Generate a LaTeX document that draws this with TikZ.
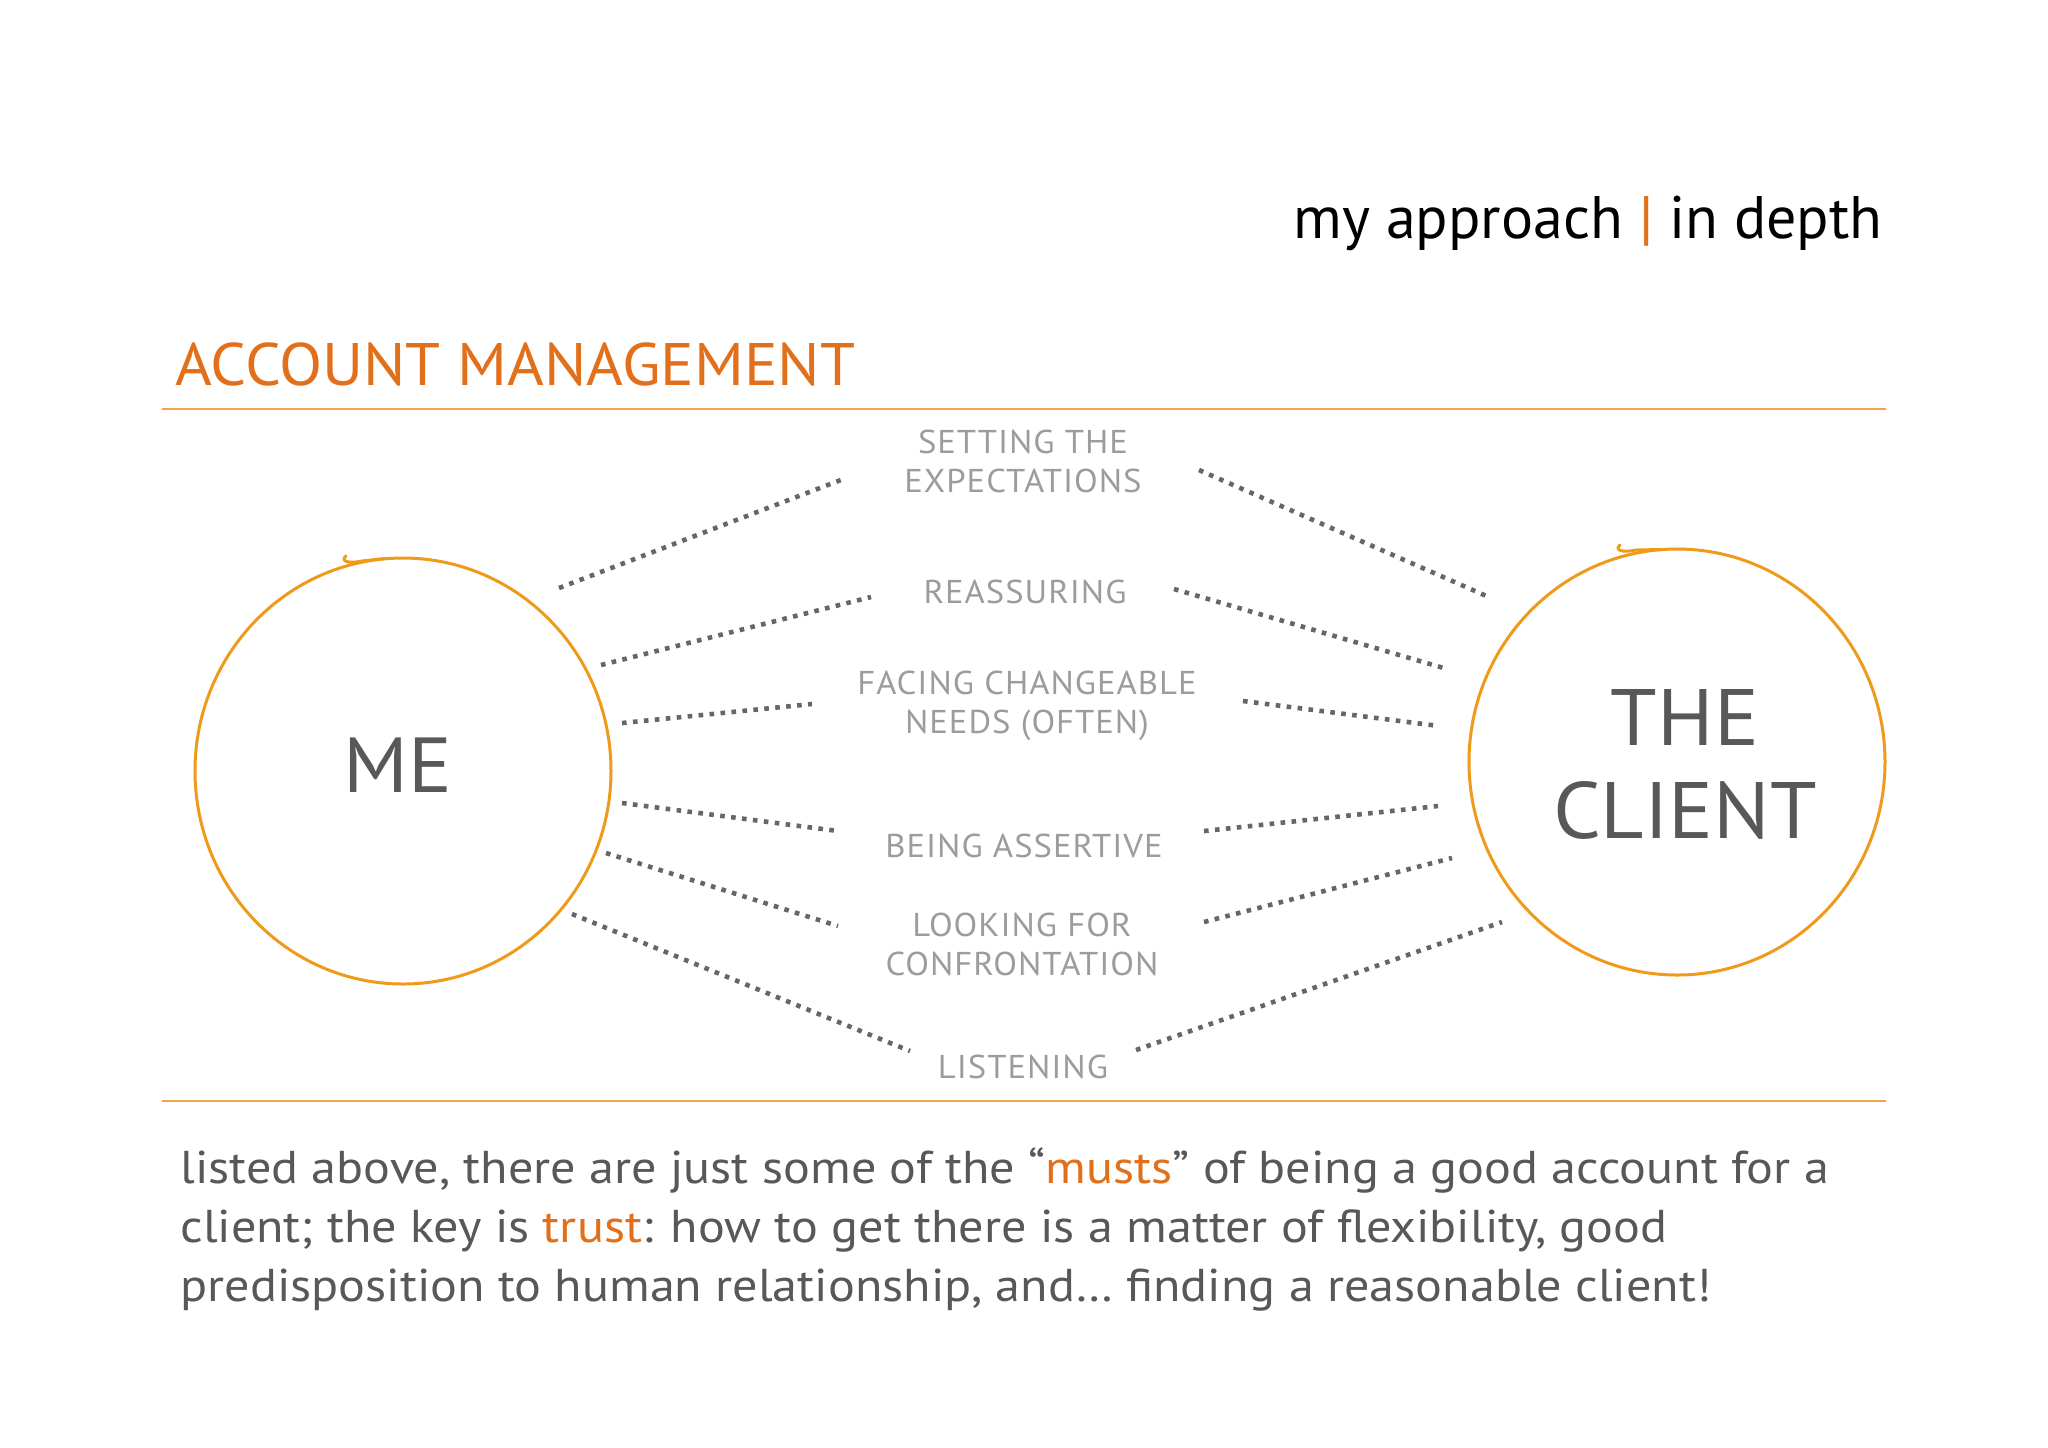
\documentclass[tikz,border=0pt]{standalone}
\usepackage{fontspec}
\setmainfont{PT Sans}
\newfontfamily\capsfont[FakeStretch=1.05]{PT Sans}
\newfontfamily\labelfont[FakeStretch=1.05,LetterSpace=3]{PT Sans}
\newfontfamily\headfont[FakeStretch=1.0]{PT Sans}
\newfontfamily\bodyfont[FakeStretch=1.09]{PT Sans}
\definecolor{titleorange}{HTML}{E2701A}
\definecolor{ringorange}{HTML}{F09A1C}
\definecolor{ruleorange}{HTML}{EFA54E}
\definecolor{darktext}{HTML}{58585A}
\definecolor{labelgray}{HTML}{9C9C9C}
\definecolor{dotgray}{HTML}{666666}
\tikzset{
  ring/.style={draw=ringorange, line width=1.5pt, line cap=round, line join=round},
  rulebar/.style={draw=ruleorange, line width=1pt},
  dotlink/.style={draw=dotgray, line width=2.3pt, dash pattern=on 2.3pt off 3.2pt},
  lbl/.style={inner sep=0pt, anchor=base, text=labelgray, font=\labelfont\fontsize{16.5pt}{19.5pt}\selectfont},
  bigname/.style={inner sep=0pt, anchor=base, text=darktext, font=\capsfont\fontsize{40pt}{46.5pt}\selectfont},
  para/.style={inner sep=0pt, anchor=base west, text=darktext, font=\bodyfont\fontsize{23pt}{29.5pt}\selectfont},
}
\begin{document}
\begin{tikzpicture}[x=0.5pt,y=-0.5pt]
\useasboundingbox (0,0) rectangle (2048,1447);
\fill[white] (0,0) rectangle (2048,1447);

% header
\node[inner sep=0pt, anchor=base east, font=\headfont\fontsize{30pt}{36pt}\selectfont] (head) at (1883,238)
  {my approach {\color{titleorange}|} in depth};
\node[inner sep=0pt, anchor=base west, text=titleorange, font=\capsfont\fontsize{30pt}{36pt}\selectfont] (sect) at (175,385)
  {ACCOUNT MANAGEMENT};

% rules
\coordinate (r1a) at (162,409); \coordinate (r1b) at (1886,409);
\coordinate (r2a) at (162,1101); \coordinate (r2b) at (1886,1101);
\draw[rulebar] (r1a) -- (r1b);
\draw[rulebar] (r2a) -- (r2b);

% circles (hand drawn)
\coordinate (mec) at (403,771);
\coordinate (clc) at (1677,762);
\draw[ring] (mec) ellipse [x radius=208, y radius=213];
\draw[ring] (346,556) .. controls (340,561) and (348,564) .. (362,561) -- (385,558.5);
\draw[ring] (clc) ellipse [x radius=208, y radius=213];
\draw[ring] (1620,545) .. controls (1614,550) and (1622,553) .. (1636,550) -- (1660,549.5);

\node[bigname, font=\capsfont\fontsize{39pt}{45pt}\selectfont] (me) at (398,792) {ME};
\node[bigname] (the) at (1685,745) {THE};
\node[bigname] (client) at (1685,838) {CLIENT};

% labels
\node[lbl] (set1) at (1023,453) {SETTING THE};
\node[lbl] (set2) at (1023,492) {EXPECTATIONS};
\node[lbl] (reas) at (1025,603) {REASSURING};
\node[lbl] (face1) at (1027,694) {FACING CHANGEABLE};
\node[lbl] (face2) at (1027,733) {NEEDS (OFTEN)};
\node[lbl] (bein) at (1024,857) {BEING ASSERTIVE};
\node[lbl] (look1) at (1022,936) {LOOKING FOR};
\node[lbl] (look2) at (1022,975) {CONFRONTATION};
\node[lbl] (list) at (1023,1078) {LISTENING};

% connector end points
\coordinate (l1a) at (559,588);  \coordinate (l1b) at (846,478);
\coordinate (l2a) at (601,665);  \coordinate (l2b) at (871,597);
\coordinate (l3a) at (622,723);  \coordinate (l3b) at (812,704);
\coordinate (l4a) at (622,803);  \coordinate (l4b) at (838,831);
\coordinate (l5a) at (606,853);  \coordinate (l5b) at (838,926);
\coordinate (l6a) at (572,914);  \coordinate (l6b) at (910,1051);
\coordinate (q1a) at (1199,470); \coordinate (q1b) at (1491,598);
\coordinate (q2a) at (1174,589); \coordinate (q2b) at (1447,669);
\coordinate (q3a) at (1243,701); \coordinate (q3b) at (1439,726);
\coordinate (q4a) at (1204,831); \coordinate (q4b) at (1438,806);
\coordinate (q5a) at (1204,922); \coordinate (q5b) at (1452,858);
\coordinate (q6a) at (1136,1050);\coordinate (q6b) at (1502,922);
\foreach \n in {1,...,6} {
  \draw[dotlink] (l\n a) -- (l\n b);
  \draw[dotlink] (q\n a) -- (q\n b);
}

% paragraph
\node[para] (p1) at (180,1183) {listed above, there are just some of the \textquotedblleft{\color{titleorange}musts}\textquotedblright\ of being a good account for a};
\node[para] (p2) at (180,1242) {client; the key is {\color{titleorange}trust}: how to get there is a matter of flexibility, good};
\node[para] (p3) at (180,1301) {predisposition to human relationship, and\ldots\ finding a reasonable client!};
\end{tikzpicture}
\end{document}
